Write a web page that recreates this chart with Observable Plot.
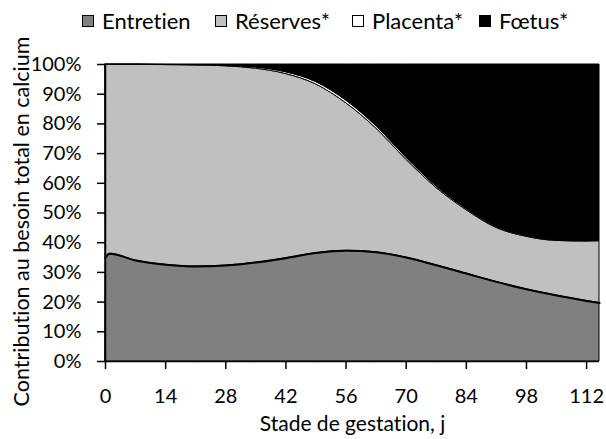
<!DOCTYPE html>
<html>
<head>
<meta charset="utf-8">
<script src="https://cdn.jsdelivr.net/npm/d3@7"></script>
<script src="https://cdn.jsdelivr.net/npm/@observablehq/plot@0.6"></script>
<style>
  body { margin: 0; background: #fff; font-family: Lato, sans-serif; font-variant-ligatures: none; }
  #legend { position: relative; width: 606px; height: 36px; font-size: 22px; line-height: 22px; color: #000; }
  .item { position: absolute; top: 10px; display: flex; align-items: center; white-space: nowrap; }
  .sw { width: 10px; height: 10px; border: 1px solid #000; margin-right: 8px; flex: none; }
  svg text { font-variant-ligatures: none; }
</style>
</head>
<body>
<div id="legend"></div>
<div id="chart"></div>
<script>
const days      = [0, 1, 7, 14, 21, 28, 35, 42, 49, 56, 63, 70, 77, 84, 91, 98, 105, 112, 115];
const entretien = [35.0, 36.3, 34.0, 32.6, 32.0, 32.3, 33.3, 34.8, 36.5, 37.3, 36.8, 35.0, 32.4, 29.6, 26.8, 24.3, 22.2, 20.4, 19.7];
const reserves  = [64.9, 63.6, 65.9, 67.2, 67.7, 67.1, 65.3, 62.0, 56.8, 49.7, 41.7, 33.0, 26.1, 21.4, 18.2, 17.7, 18.4, 20.0, 20.8];
const placenta  = [0.02, 0.02, 0.03, 0.05, 0.1, 0.2, 0.4, 0.6, 0.8, 0.9, 0.8, 0.7, 0.5, 0.4, 0.3, 0.3, 0.2, 0.2, 0.2];
const foetus    = [0.08, 0.08, 0.07, 0.15, 0.2, 0.4, 1.0, 2.6, 5.9, 12.1, 20.7, 31.3, 41.0, 48.6, 54.7, 57.7, 59.2, 59.4, 59.3];
const seriesNames = ["Entretien", "Réserves*", "Placenta*", "Fœtus*"];
const seriesColors = ["#808080", "#c0c0c0", "#ffffff", "#000000"];
const xTicks = [0, 14, 28, 42, 56, 70, 84, 98, 112];
const yTicks = [0, 10, 20, 30, 40, 50, 60, 70, 80, 90, 100];
const xTitle = "Stade de gestation, j";
const yTitle = "Contribution au besoin total en calcium";

const seriesValues = [entretien, reserves, placenta, foetus];
const rows = [];
days.forEach((d, i) => {
  seriesValues.forEach((arr, k) => rows.push({day: d, series: seriesNames[k], value: arr[i]}));
});

// legend
const legendLeft = [82, 215, 352, 479];
const legend = document.getElementById("legend");
seriesNames.forEach((name, k) => {
  const it = document.createElement("div");
  it.className = "item";
  it.style.left = legendLeft[k] + "px";
  const sw = document.createElement("span");
  sw.className = "sw";
  sw.style.background = seriesColors[k];
  it.appendChild(sw);
  const t = document.createElement("span");
  t.textContent = name;
  it.appendChild(t);
  legend.appendChild(it);
});

const chart = Plot.plot({
  width: 606,
  height: 403,
  marginTop: 28,
  marginBottom: 78,
  marginLeft: 105,
  marginRight: 7,
  style: {fontFamily: "Lato, sans-serif", fontSize: "20px", color: "#000", background: "#fff", overflow: "visible"},
  x: {domain: [0, 115]},
  y: {domain: [0, 100]},
  color: {domain: seriesNames, range: seriesColors},
  marks: [
    Plot.areaY(rows, {x: "day", y: "value", z: "series", fill: "series", order: seriesNames, curve: "monotone-x", stroke: "#000", strokeWidth: 1}),
    Plot.lineY(rows.filter(r => r.series === "Entretien"), {x: "day", y: "value", curve: "monotone-x", stroke: "#000", strokeWidth: 2}),
    Plot.ruleX([0], {stroke: "#000", strokeWidth: 1.5}),
    Plot.ruleY([0], {stroke: "#000", strokeWidth: 1.5}),
    Plot.axisX({ticks: xTicks, tickSize: 8, tickPadding: 19, label: null, fontSize: 20, strokeWidth: 1.5}),
    Plot.axisY({ticks: yTicks, tickSize: 8, tickPadding: 16, label: null, fontSize: 20, tickFormat: d => d + "%", strokeWidth: 1.5}),
    Plot.text([xTitle], {frameAnchor: "bottom", lineAnchor: "top", dy: 55, fontSize: 21, text: d => d}),
    Plot.text([yTitle], {frameAnchor: "left", textAnchor: "middle", dx: -83, dy: 8.5, rotate: -90, fontSize: 21.5, text: d => d})
  ]
});
document.getElementById("chart").appendChild(chart);
</script>
</body>
</html>
